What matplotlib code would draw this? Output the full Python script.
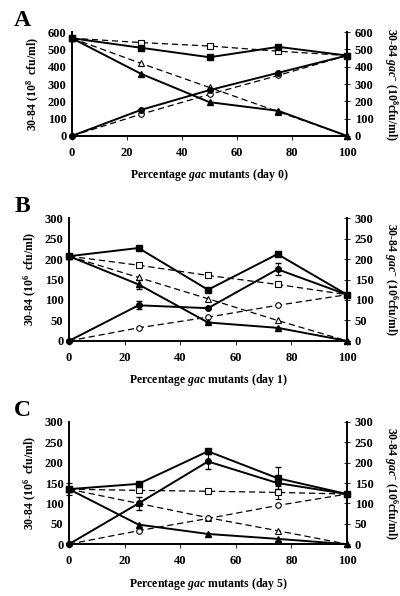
import matplotlib
matplotlib.use("Agg")
import matplotlib.pyplot as plt

plt.rcParams["font.family"] = ["Liberation Serif", "DejaVu Serif"]
plt.rcParams["font.weight"] = "bold"
plt.rcParams["mathtext.fontset"] = "custom"
plt.rcParams["mathtext.rm"] = "Liberation Serif:bold"
plt.rcParams["mathtext.bf"] = "Liberation Serif:bold"
plt.rcParams["mathtext.it"] = "Liberation Serif:italic:bold"

pct = [0, 25, 50, 75, 100]

# panel A (day 0), 10^8 cfu/ml
a_total = [565, 510, 455, 515, 465]
a_wt = [565, 360, 195, 145, 0]
a_gac = [0, 150, 265, 365, 465]
a_total_exp = [565, 540, 520, 490, 465]
a_wt_exp = [565, 420, 280, 140, 0]
a_gac_exp = [0, 125, 240, 350, 465]

# panel B (day 1), 10^6 cfu/ml
b_total = [207, 227, 125, 212, 113]
b_wt = [207, 138, 45, 32, 0]
b_gac = [0, 87, 80, 175, 113]
b_total_exp = [207, 185, 160, 138, 113]
b_wt_exp = [207, 155, 103, 50, 0]
b_gac_exp = [0, 32, 58, 87, 113]
b_wt_err = [0, 12, 0, 0, 0]
b_gac_err = [0, 10, 0, 15, 0]

# panel C (day 5), 10^6 cfu/ml
c_total = [135, 148, 228, 162, 123]
c_wt = [135, 48, 25, 13, 0]
c_gac = [0, 100, 203, 150, 123]
c_total_exp = [135, 132, 130, 127, 123]
c_wt_exp = [135, 100, 65, 33, 0]
c_gac_exp = [0, 33, 63, 95, 123]
c_gac_err = [0, 15, 18, 0, 0]
c_total_err = [0, 0, 0, 27, 0]
c_total_exp_err = [15, 0, 0, 17, 0]

panels = [
    dict(letter="A", day=0, exp=8, ymax=600, step=100,
         pos=[0.18, 0.772, 0.6875, 0.174],
         solid=[(a_total, "s", None), (a_wt, "^", None), (a_gac, "o", None)],
         dashed=[(a_total_exp, "s", None), (a_wt_exp, "^", None), (a_gac_exp, "o", None)]),
    dict(letter="B", day=1, exp=6, ymax=300, step=50,
         pos=[0.1725, 0.428, 0.695, 0.206],
         solid=[(b_total, "s", None), (b_wt, "^", b_wt_err), (b_gac, "o", b_gac_err)],
         dashed=[(b_total_exp, "s", None), (b_wt_exp, "^", None), (b_gac_exp, "o", None)]),
    dict(letter="C", day=5, exp=6, ymax=300, step=50,
         pos=[0.1725, 0.087, 0.695, 0.205],
         solid=[(c_total, "s", c_total_err), (c_wt, "^", None), (c_gac, "o", c_gac_err)],
         dashed=[(c_total_exp, "s", c_total_exp_err), (c_wt_exp, "^", None), (c_gac_exp, "o", None)]),
]

fig = plt.figure(figsize=(4.0, 5.96), dpi=100)

for p in panels:
    ax = fig.add_axes(p["pos"])
    for vals, m, err in p["dashed"]:
        ax.errorbar(pct, vals, yerr=err, color="black", lw=0.9, ls=(0, (5, 3)),
                    marker=m, ms=4, mfc="white", mec="black", mew=0.8,
                    capsize=2.5, elinewidth=0.8, clip_on=False, zorder=3)
    for vals, m, err in p["solid"]:
        ax.errorbar(pct, vals, yerr=err, color="black", lw=1.4,
                    marker=m, ms=4, mfc="black", mec="black",
                    capsize=2.5, elinewidth=0.8, clip_on=False, zorder=4)

    ticks = list(range(0, p["ymax"] + 1, p["step"]))
    ax.set_xlim(0, 100)
    ax.set_ylim(0, p["ymax"])
    ax.set_xticks([0, 20, 40, 60, 80, 100])
    ax.set_yticks(ticks)
    ax.spines["top"].set_visible(False)
    ax.spines["right"].set_visible(False)
    ax.spines["left"].set_linewidth(1.4)
    ax.spines["bottom"].set_linewidth(1.4)
    ax.tick_params(axis="y", length=0, labelsize=9, pad=4)
    ax.tick_params(axis="x", length=3, width=0.6, direction="out", labelsize=9, pad=5)
    for lab in ax.get_xticklabels() + ax.get_yticklabels():
        lab.set_fontweight("bold")

    ax2 = ax.twinx()
    ax2.set_ylim(0, p["ymax"])
    ax2.set_yticks(ticks)
    ax2.spines["top"].set_visible(False)
    ax2.spines["left"].set_visible(False)
    ax2.spines["bottom"].set_visible(False)
    ax2.spines["right"].set_linewidth(1.4)
    ax2.tick_params(axis="y", length=5, width=0.6, direction="inout", labelsize=9, pad=3)
    for lab in ax2.get_yticklabels():
        lab.set_fontweight("bold")

    ax.set_ylabel(r"30-84 (10$^{%d}$  cfu/ml)" % p["exp"], fontsize=8.5,
                  fontweight="bold", labelpad=4)
    ax2.set_ylabel(r"30-84 $\it{gac}$$^{-}$ (10$^{%d}$cfu/ml)" % p["exp"], fontsize=8.5,
                   fontweight="bold", rotation=270, va="bottom", labelpad=6)
    ax.set_xlabel(r"Percentage $\it{gac}$ mutants (day %d)" % p["day"], fontsize=8.5,
                  fontweight="bold", labelpad=6)

    x0, y0, w, h = p["pos"]
    fig.text(0.055, y0 + h + 0.02, p["letter"], fontsize=17, fontweight="bold",
             ha="center", va="center")

fig.savefig("out.png", dpi=100)
